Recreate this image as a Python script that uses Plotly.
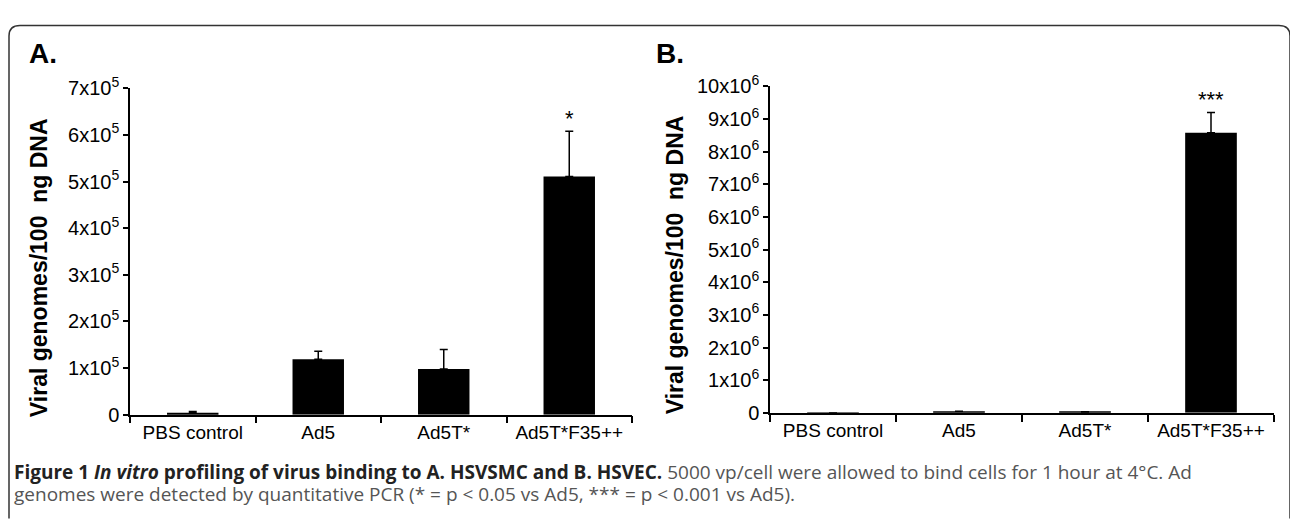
import plotly.graph_objects as go

W, H = 1290, 519

categories = ["PBS control", "Ad5", "Ad5T*", "Ad5T*F35++"]
a_values = [4000, 119000, 98000, 511000]
a_err = [3000, 17000, 42000, 97000]
b_values = [2000, 50000, 15000, 8580000]
b_err = [0, 0, 15000, 620000]
a_sig = ["", "", "", "*"]
b_sig = ["", "", "", "***"]
a_ticks = [0, 100000, 200000, 300000, 400000, 500000, 600000, 700000]
a_ticktext = ["0"] + [f"{i}x10<sup>5</sup>" for i in range(1, 8)]
b_ticks = [i * 1000000 for i in range(0, 11)]
b_ticktext = ["0"] + [f"{i}x10<sup>6</sup>" for i in range(1, 11)]

caption1 = ("<b>Figure 1 <i>In vitro</i> profiling of virus binding to A. HSVSMC and B. HSVEC.</b>"
            "<span style='color:#555555'> 5000 vp/cell were allowed to bind cells for 1 hour at 4°C. Ad</span>")
caption2 = "genomes were detected by quantitative PCR (* = p &lt; 0.05 vs Ad5, *** = p &lt; 0.001 vs Ad5)."


def px(x):
    return x / W


def py(y):
    return 1 - y / H


FONT = "Liberation Sans, Arial, sans-serif"

fig = go.Figure()
fig.add_trace(go.Bar(
    x=categories, y=a_values, xaxis="x", yaxis="y",
    marker=dict(color="black", line=dict(width=0)), width=0.41,
    error_y=dict(type="data", array=a_err, arrayminus=[0] * 4, symmetric=False,
                 color="black", thickness=1.5, width=4),
    showlegend=False,
))
fig.add_trace(go.Bar(
    x=categories, y=b_values, xaxis="x2", yaxis="y2",
    marker=dict(color="black", line=dict(width=0)), width=0.41,
    error_y=dict(type="data", array=b_err, arrayminus=[0] * 4, symmetric=False,
                 color="black", thickness=1.5, width=4),
    showlegend=False,
))

ann = []
for c, v, e, s in zip(categories, a_values, a_err, a_sig):
    if s:
        ann.append(dict(x=c, y=v + e, xref="x", yref="y", text=s, showarrow=False,
                        xanchor="center", yanchor="bottom", yshift=-2,
                        font=dict(family=FONT, size=22, color="black")))
for c, v, e, s in zip(categories, b_values, b_err, b_sig):
    if s:
        ann.append(dict(x=c, y=v + e, xref="x2", yref="y2", text=s, showarrow=False,
                        xanchor="center", yanchor="bottom", yshift=-2,
                        font=dict(family=FONT, size=22, color="black")))

title_text = "Viral genomes/100  ng DNA"
ann.append(dict(x=px(39), y=py(267), xref="paper", yref="paper", text="<b>" + title_text + "</b>",
                textangle=-90, showarrow=False, xanchor="center", yanchor="middle",
                font=dict(family=FONT, size=23, color="black")))
ann.append(dict(x=px(675), y=py(264), xref="paper", yref="paper", text="<b>" + title_text + "</b>",
                textangle=-90, showarrow=False, xanchor="center", yanchor="middle",
                font=dict(family=FONT, size=23, color="black")))
ann.append(dict(x=px(27), y=py(41), xref="paper", yref="paper", text="<b>A.</b>",
                xanchor="left", yanchor="middle",
                showarrow=False, font=dict(family=FONT, size=28, color="black")))
ann.append(dict(x=px(654), y=py(41), xref="paper", yref="paper", text="<b>B.</b>",
                xanchor="left", yanchor="middle",
                showarrow=False, font=dict(family=FONT, size=28, color="black")))
ann.append(dict(x=px(12), y=py(481), xref="paper", yref="paper", text=caption1,
                xanchor="left", yanchor="middle",
                showarrow=False, font=dict(family="Open Sans", size=19, color="#222222")))
ann.append(dict(x=px(12), y=py(504), xref="paper", yref="paper", text=caption2,
                xanchor="left", yanchor="middle",
                showarrow=False, font=dict(family="Open Sans", size=19, color="#555555")))

frame = (f"M {px(9)},{py(530)} L {px(9)},{py(23)} Q {px(9)},{py(12)} {px(20)},{py(12)} "
         f"L {px(1279)},{py(12)} Q {px(1290)},{py(12)} {px(1290)},{py(23)} L {px(1290)},{py(530)}")

axis_common = dict(showline=True, linecolor="black", linewidth=1.5, ticks="outside",
                   tickcolor="black", tickwidth=1.5, showgrid=False, zeroline=False,
                   fixedrange=True)

fig.update_layout(
    width=W, height=H,
    margin=dict(l=0, r=0, t=0, b=0),
    paper_bgcolor="white", plot_bgcolor="white",
    xaxis=dict(domain=[px(130), px(632)], anchor="y", type="category", tickson="boundaries",
               ticklen=7, tickfont=dict(family=FONT, size=19, color="black"), **axis_common),
    yaxis=dict(domain=[py(421), py(78)], anchor="x", range=[0, 700000], tickvals=a_ticks,
               ticktext=a_ticktext, ticklen=5, tickfont=dict(family=FONT, size=20, color="black"),
               **axis_common),
    xaxis2=dict(domain=[px(770), px(1274)], anchor="y2", type="category", tickson="boundaries",
                ticklen=7, tickfont=dict(family=FONT, size=19, color="black"), **axis_common),
    yaxis2=dict(domain=[py(419), py(76)], anchor="x2", range=[0, 10000000], tickvals=b_ticks,
                ticktext=b_ticktext, ticklen=5, tickfont=dict(family=FONT, size=20, color="black"),
                **axis_common),
    annotations=ann,
    shapes=[dict(type="path", path=frame, xref="paper", yref="paper",
                 line=dict(color="#333333", width=1.5))],
    bargap=0.59,
)

fig.write_html("out.html", config={"displayModeBar": False},
               post_script="document.body.style.margin='0';document.body.style.overflow='hidden';")
